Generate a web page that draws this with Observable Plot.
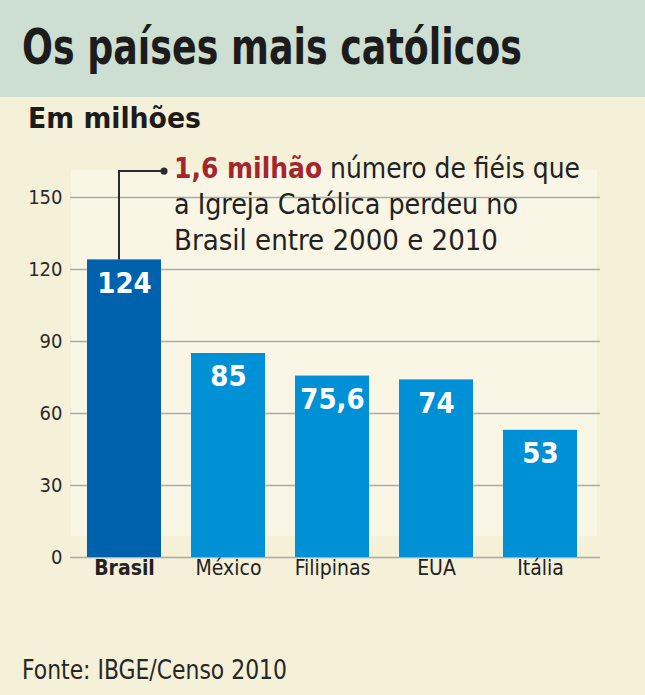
<!DOCTYPE html>
<html>
<head>
<meta charset="utf-8">
<script src="https://cdn.jsdelivr.net/npm/d3@7"></script>
<script src="https://cdn.jsdelivr.net/npm/@observablehq/plot@0.6"></script>
<style>
  body { margin: 0; }
  #page {
    position: relative; width: 645px; height: 695px; overflow: hidden;
    background: #f5f0d8;
    font-family: "DejaVu Sans Condensed", "Liberation Sans Narrow", "DejaVu Sans", sans-serif;
    color: #1e1e1e;
  }
  #header { position: absolute; left: 0; top: 0; width: 645px; height: 97px; background: #cddfd3; }
  .fit { position: absolute; white-space: nowrap; line-height: 1; transform-origin: 0 0; }
  #title { left: 22px; top: 22px; font-size: 50px; font-weight: bold; color: #1c1c1c; }
  #subtitle { left: 28px; top: 104px; font-size: 29px; font-weight: bold; color: #1c1c1c; }
  #source { left: 22px; top: 657px; font-size: 26px; color: #262626; }
  #chart { position: absolute; left: 0; top: 140px; }
</style>
</head>
<body>
<div id="page">
  <div id="header"></div>
  <div id="title" class="fit" data-w="500">Os países mais católicos</div>
  <div id="subtitle" class="fit" data-w="173">Em milhões</div>
  <div id="chart"></div>
  <div id="source" class="fit" data-w="265">Fonte: IBGE/Censo 2010</div>
</div>
<script>
const countries = ["Brasil", "México", "Filipinas", "EUA", "Itália"];
const values = [124, 85, 75.6, 74, 53];
const valueLabels = ["124", "85", "75,6", "74", "53"];
const yTicks = [0, 30, 60, 90, 120, 150];
const highlight = "Brasil";
const noteHighlight = "1,6 milhão";
const noteLines = [" número de fiéis que", "a Igreja Católica perdeu no", "Brasil entre 2000 e 2010"];
const noteWidths = [406, 344, 324];
const noteTop = 160.8;      // value where the connector turns
const panelRange = [8.75, 161.25];

const data = countries.map((c, i) => ({country: c, value: values[i], label: valueLabels[i]}));
const font = '"DejaVu Sans Condensed", "Liberation Sans Narrow", "DejaVu Sans", sans-serif';

function annotation(index, scales, vals, dims) {
  const x = scales.x, y = scales.y;
  const bw = typeof x.bandwidth === "function" ? x.bandwidth() : x.bandwidth;
  const xv = x(highlight) + bw / 2 - 5;
  const yb = y(values[0]);
  const yt = y(noteTop);
  const xd = xv + 45;
  const g = d3.create("svg:g").attr("text-anchor", "start");
  g.append("path")
    .attr("d", `M${xv},${yb}V${yt}H${xd}`)
    .attr("fill", "none").attr("stroke", "#2b2b2b").attr("stroke-width", 2);
  g.append("circle").attr("cx", xd).attr("cy", yt).attr("r", 3.6).attr("fill", "#2b2b2b");
  const tx = xd + 10;
  const t1 = g.append("text").attr("x", tx).attr("y", yt + 6.5).attr("text-anchor", "start")
    .attr("font-size", 28).attr("font-family", font).attr("fill", "#222")
    .attr("textLength", noteWidths[0]).attr("lengthAdjust", "spacingAndGlyphs");
  t1.append("tspan").attr("fill", "#a3262f").attr("font-weight", "bold").text(noteHighlight);
  t1.append("tspan").text(noteLines[0]);
  [1, 2].forEach(i => {
    g.append("text").attr("x", tx).attr("y", yt + 6.5 + 36 * i).attr("text-anchor", "start")
      .attr("font-size", 28).attr("font-family", font).attr("fill", "#222")
      .attr("textLength", noteWidths[i]).attr("lengthAdjust", "spacingAndGlyphs")
      .text(noteLines[i]);
  });
  return g.node();
}

const chart = Plot.plot({
  width: 645, height: 455,
  marginLeft: 70, marginRight: 45, marginTop: 57, marginBottom: 38,
  style: {background: "transparent", fontFamily: font, color: "#2a2a2a"},
  x: {domain: countries, paddingInner: 0.284, paddingOuter: 0.17, align: 0.44, axis: null},
  y: {domain: [0, 150], ticks: yTicks, label: null, tickSize: 0, tickPadding: 8, tickFormat: d => String(d)},
  color: {type: "identity"},
  marks: [
    Plot.rect([{a: panelRange[0], b: panelRange[1]}], {y1: "a", y2: "b", fill: "#faf6e6", insetLeft: 1, insetRight: 3}),
    Plot.ruleY(yTicks, {stroke: "#aaaaaa", strokeWidth: 1.4}),
    Plot.axisY({ticks: yTicks, tickSize: 0, tickPadding: 8, fontSize: 20, label: null, fill: "#2a2a2a"}),
    Plot.barY(data, {x: "country", y: "value", fill: d => d.country === highlight ? "#0061ad" : "#0090d6"}),
    Plot.text(data, {x: "country", y: "value", text: "label", dy: 23.5, fill: "white", fontSize: 29, fontWeight: "bold"}),
    Plot.text(data.filter(d => d.country === highlight), {x: "country", text: "country", frameAnchor: "bottom", lineAnchor: "top", dy: 3, fontSize: 21, fontWeight: "bold", fill: "#222"}),
    Plot.text(data.filter(d => d.country !== highlight), {x: "country", text: "country", frameAnchor: "bottom", lineAnchor: "top", dy: 3, fontSize: 21, fill: "#222"}),
    annotation
  ]
});
document.getElementById("chart").appendChild(chart);

document.querySelectorAll(".fit").forEach(el => {
  const w = el.getBoundingClientRect().width;
  const target = +el.dataset.w;
  if (w > 0) el.style.transform = `scaleX(${target / w})`;
});
</script>
</body>
</html>
